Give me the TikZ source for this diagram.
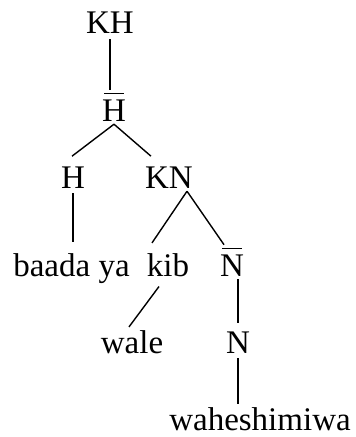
\documentclass[tikz,border=0pt]{standalone}
\usepackage{fontspec}
\setmainfont{Liberation Serif}
\newsavebox\ovlbox
\newcommand{\ovl}[1]{\sbox\ovlbox{#1}\vbox{\offinterlineskip\hbox to\wd\ovlbox{\hss\vrule height 1.5pt width 0.8\wd\ovlbox\hss}\kern5pt\copy\ovlbox}}
\begin{document}
\begin{tikzpicture}[x=1pt, y=-1pt,
    font=\fontsize{33}{40}\selectfont,
    cat/.style={anchor=base, inner sep=3pt},
    rama/.style={line width=1.4pt}]
  \useasboundingbox (0,0) rectangle (356,437);
  % Nodos
  \node[cat] (KH)   at (110,33)  {KH};
  \node[cat] (Hb)   at (114,121) {\ovl{H}};
  \node[cat] (H)    at (73,188)  {H};
  \node[cat] (KN)   at (169,188) {KN};
  \node[cat] (baada) at (71.5,276) {baada ya};
  \node[cat] (kib)  at (168,276) {kib};
  \node[cat] (Nb)   at (232,276) {\ovl{N}};
  \node[cat] (wale) at (132,353) {wale};
  \node[cat] (N)    at (238,353) {N};
  \node[cat] (wah)  at (260,430) {waheshimiwa};
  % Ramas
  \draw[rama, shorten <=3pt] (KH.south) -- (KH.south |- Hb.north);
  \draw[rama] (Hb.south) -- ([xshift=-1pt,yshift=7pt]H.north);
  \draw[rama] (Hb.south) -- ([xshift=-18pt,yshift=7pt]KN.north);
  \draw[rama, shorten <=2pt, shorten >=8pt] (H.south) -- (H.south |- baada.north);
  \draw[rama] ([xshift=18pt]KN.south) -- ([xshift=-16pt,yshift=7pt]kib.north);
  \draw[rama] ([xshift=18pt]KN.south) -- ([xshift=-8pt]Nb.north);
  \draw[rama] ([xshift=-9pt,yshift=-7pt]kib.south) -- ([xshift=-3pt]wale.north);
  \draw[rama, shorten >=5pt] (N.north |- Nb.south) -- (N.north);
  \draw[rama, shorten <=2pt] (N.south) -- (N.south |- wah.north);
\end{tikzpicture}
\end{document}
